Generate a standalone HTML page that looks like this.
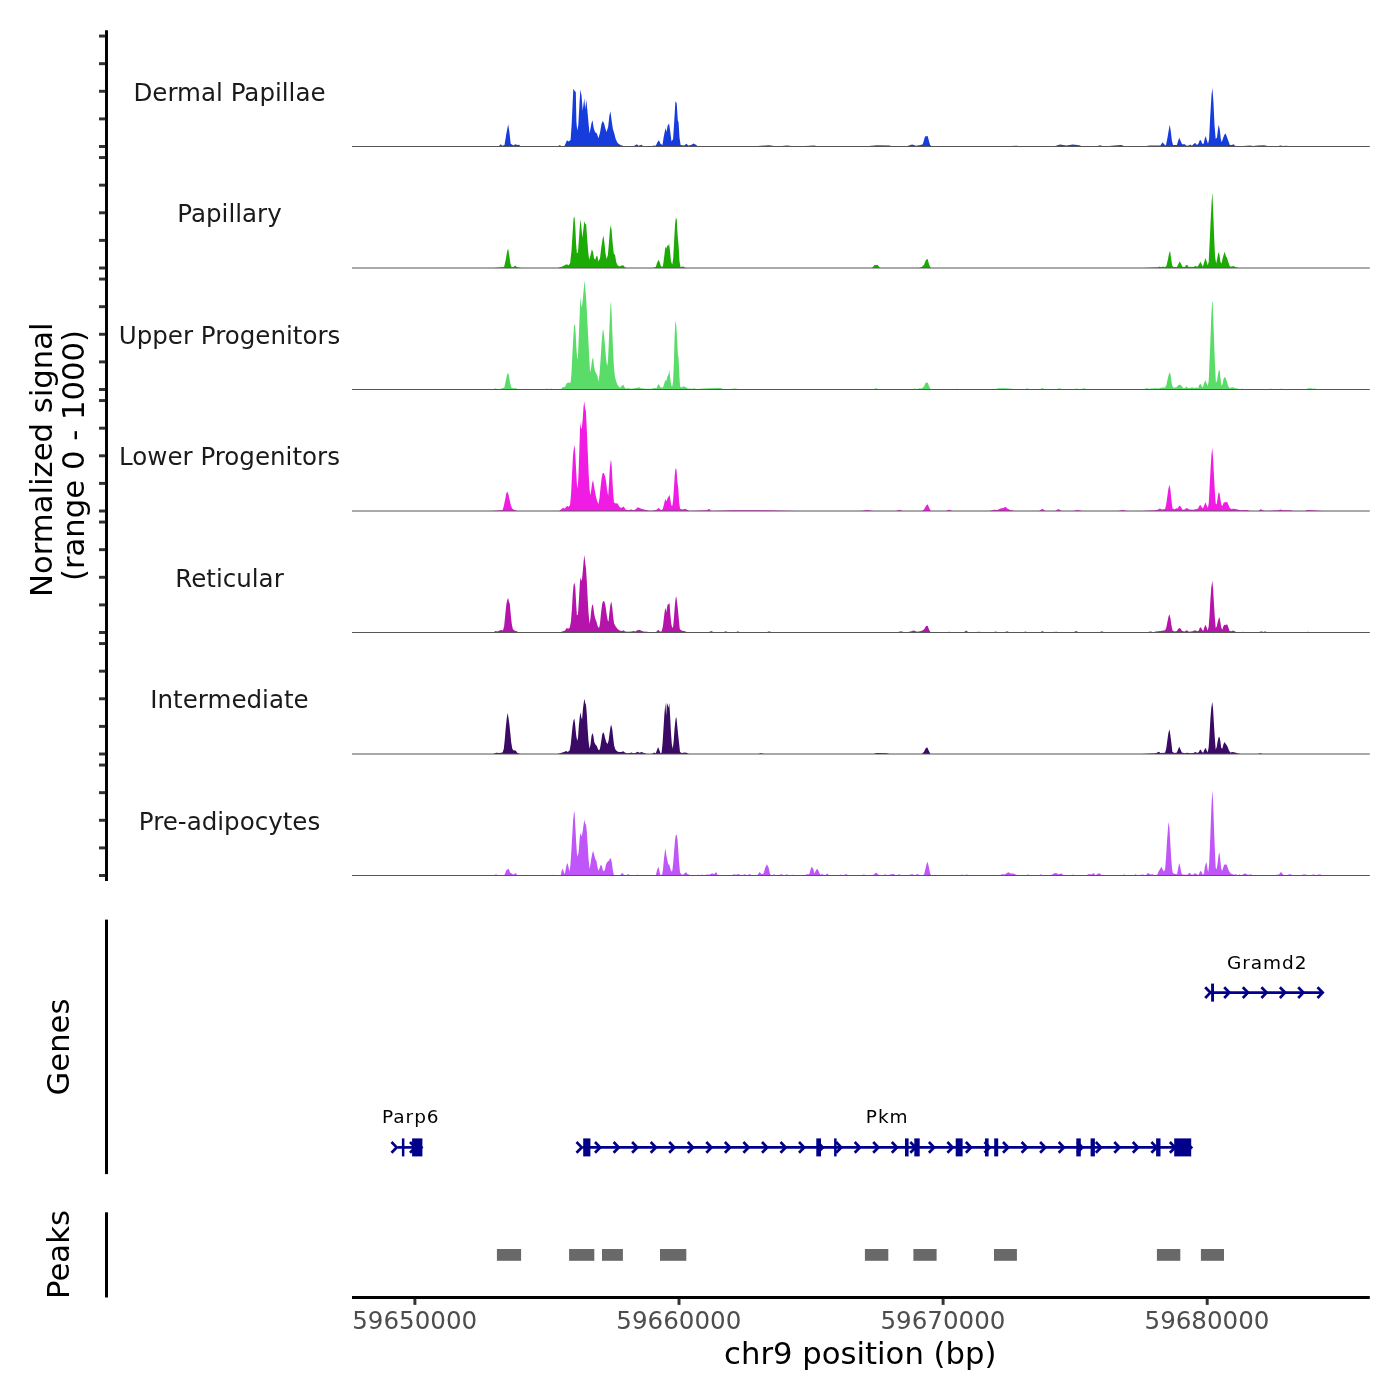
<!DOCTYPE html>
<html lang="en"><head><meta charset="utf-8"><title>Coverage plot</title>
<style>html,body{margin:0;padding:0;background:#fff}svg{display:block}text{font-family:'DejaVu Sans','Liberation Sans',sans-serif}</style>
</head><body>
<svg width="1400" height="1400" viewBox="0 0 1400 1400">
<rect width="1400" height="1400" fill="#fff"/>
<g id="coverage">
<path d="M352,146.5L498.6,146.5L500.7,144.14L502.3,145.71L504.5,145.09L506.5,132.83L508.2,124.19L509.5,132.83L510.7,143.83L513.6,145.4L515.1,144.14L517.5,145.09L519.1,144.77L520.6,146.5L557.6,146.5L559.9,145.09L561.5,146.5L564.6,145.71L567,140.21L568.6,141.47L570.6,139.9L571.7,123.4L573.3,88.83L574.9,91.19L575.8,91.97L576.4,121.83L577.2,130.47L578.3,124.97L579.6,101.4L580.4,89.61L581.6,95.9L582.7,110.83L584.3,98.26L585.2,109.26L586.3,99.83L587.4,110.83L588.7,124.97L589.6,133.61L591.4,123.4L592.5,120.26L593.7,128.11L595,132.04L596.9,133.61L598.4,138.33L600,132.83L601.6,123.4L602.8,121.04L604.1,123.4L605.5,128.9L606.6,132.04L608.2,126.54L609.4,115.54L610.4,111.14L611.6,120.26L612.9,128.9L614.1,132.83L615.7,139.11L617.6,143.04L620.4,145.09L623.6,146.03L633.8,146.03L636.9,144.14L638.5,145.71L641.6,144.77L643.2,146.5L651.9,146.03L654.2,145.4L655.8,145.71L657.4,142.26L658.9,140.21L660.5,143.83L662.5,145.09L663.6,137.54L665.5,128.11L666.5,132.04L667.6,125.76L669.1,123.4L670.4,132.83L671.5,141.47L673.1,139.11L674.2,121.83L675.4,101.4L676.7,102.97L677.8,120.26L678.6,122.61L679.5,137.54L680.6,145.09L684.1,145.4L686.4,143.83L688.3,145.4L691.1,145.09L693.5,143.51L695.9,144.77L697.4,146.03L751.4,146.5L769.1,145.21L777.1,146.5L786.8,145.54L796.4,146.5L814.1,145.54L818.9,146.5L863.9,146.5L876.8,145.21L889.6,145.54L892.9,146.5L905.7,146.5L912.1,144.57L916,145.86L920.5,144.89L922.8,144.25L925,136.54L927.6,135.89L930.1,144.89L932.1,146.5L998.9,146.5L1016.6,145.86L1021.4,146.5L1053.6,146.5L1060,144.57L1066.4,145.54L1072.9,144.57L1079.3,145.21L1082.5,146.5L1095.4,146.5L1100.2,145.21L1103.4,146.5L1114.6,145.54L1121.1,144.89L1125.9,146.5L1143.1,146.5L1149.4,145.4L1160.4,145.4L1162.5,142.26L1164.4,144.61L1165.9,145.4L1167.5,137.54L1168.8,129.69L1169.7,124.66L1170.8,131.26L1171.9,140.69L1173,145.09L1176.9,145.09L1178.2,140.69L1179.3,137.86L1180.5,140.69L1182.1,144.14L1184.8,144.14L1186.4,145.71L1188.7,145.4L1190.3,144.61L1191.9,145.87L1194.2,143.51L1195.3,143.04L1196.9,145.09L1198.5,143.51L1199.7,140.37L1201,140.37L1202.2,143.83L1203.6,143.83L1204.7,139.11L1205.7,135.97L1206.8,139.9L1208,143.83L1209.1,139.11L1210.2,117.11L1211.5,95.11L1212.4,88.04L1213.4,101.4L1214.5,124.97L1215.7,139.11L1217,137.54L1217.9,129.69L1218.7,124.66L1219.8,129.69L1220.8,139.11L1221.7,142.26L1223.3,137.54L1224.5,134.4L1225.6,133.61L1226.9,136.76L1228.3,140.69L1229.9,145.09L1231.9,145.09L1233.5,144.14L1235.1,145.71L1236.6,146.5L1246.9,145.71L1250,145.4L1253.1,146.03L1257.9,145.4L1264.1,145.24L1267.3,146.03L1278.3,146.03L1280.6,145.4L1283,146.03L1286.9,145.71L1289.3,146.5L1369.8,146.5 Z" fill="#163CDC"/>
<line x1="352" y1="146.5" x2="1369.8" y2="146.5" stroke="#555" stroke-width="1.07"/>
<path d="M352,268L493.1,268L504.1,267.06L505.7,259.83L507.3,250.4L508.1,248.51L509.2,255.11L510.4,263.76L511.7,267.37L513.6,267.06L515.1,265.49L516.7,267.06L521.4,268L557.6,268L562.3,266.43L564.6,265.33L566.7,264.23L568.6,265.33L570.1,262.97L571.4,251.97L572.7,231.54L573.6,218.19L574.5,216.61L575.3,226.83L576.1,244.11L576.9,253.54L578,251.97L578.9,239.4L579.9,225.26L580.5,218.97L581.5,228.4L582.4,237.83L583.3,229.97L584.3,221.33L585.2,223.69L586.2,224.47L587.1,237.83L588.2,251.97L589.2,259.83L590.6,255.11L591.8,249.61L593.1,251.97L594,258.26L595.3,259.83L596.2,256.37L597.5,256.37L598.4,261.4L600,258.26L601.3,247.26L602.5,239.4L603.5,235.47L604.4,242.54L605.5,253.54L606.6,259.04L607.9,255.11L609,242.54L609.9,229.97L610.7,225.26L611.6,229.97L612.6,242.54L613.8,253.54L615.1,255.11L616.2,262.19L617.6,265.33L619.6,266.43L622,265.33L623.6,265.49L624.8,267.37L626.7,268L652.6,268L655.8,267.06L657,262.97L658.6,259.83L659.7,262.19L661,266.43L662.9,266.43L664,258.26L665.4,246.47L666.3,248.83L667.3,244.9L668.2,246.47L669.1,243.33L670.1,251.97L671,261.4L672.3,264.54L673.2,258.26L674.2,239.4L675.1,223.69L675.9,217.4L676.8,219.76L677.6,234.69L678.6,245.69L679.5,261.4L680.5,266.9L683.3,266.43L685.6,268L872,268L874.5,265.11L877.8,265.11L880,268L918.6,268L921.8,267.04L924,264.79L926,259.64L927.6,259L929.2,264.79L930.8,268L1143.1,268L1158.1,267.37L1159.6,266.43L1161.2,267.37L1162.8,266.43L1164.8,267.37L1166.4,266.11L1167.7,260.46L1168.9,254.17L1170,250.71L1171,257.31L1172.1,265.17L1173.3,267.06L1176.9,267.06L1178.2,264.39L1179.6,261.4L1180.9,263.6L1182.4,266.74L1184.8,267.06L1186,265.17L1187.1,264.86L1188.4,266.74L1193.4,267.06L1195.3,266.11L1197.4,266.74L1198.9,264.39L1200.5,261.71L1201.8,264.39L1202.9,266.74L1204,262.81L1205.4,258.1L1206.5,261.24L1207.6,265.17L1208.7,262.03L1209.6,243.17L1210.7,219.6L1211.7,200.74L1212.4,192.57L1213.2,211.74L1214.2,238.46L1215.1,257.31L1216.2,263.6L1217.3,258.1L1218.3,252.29L1219.4,254.17L1220.5,262.03L1221.6,263.6L1222.7,258.1L1223.8,254.17L1224.7,251.81L1225.8,255.74L1227.1,258.1L1228.3,262.03L1229.9,266.43L1231.9,266.43L1233.5,265.96L1235.9,267.21L1239,268L1369.8,268 Z" fill="#1CAB05"/>
<line x1="352" y1="268" x2="1369.8" y2="268" stroke="#555" stroke-width="1.07"/>
<path d="M352,389.5L493.1,389.5L495.5,388.24L497.9,389.5L502.6,388.24L504.5,387.3L505.7,381.01L507,374.73L507.9,372.84L508.9,375.51L510,382.59L511.2,387.61L513.6,388.56L515.1,387.93L519.1,389.5L545,389.5L546.9,388.56L548.9,389.5L551.3,388.56L552.9,389.5L560.7,389.5L562.6,387.3L565.1,386.67L566.7,383.37L568.6,382.59L570.5,382.9L571.4,374.73L572.3,355.87L573.3,337.01L574.1,325.23L574.9,324.44L575.6,332.3L576.4,348.01L577.2,359.8L578,355.87L578.9,333.87L579.9,308.73L580.5,296.16L581.3,307.16L582.1,305.59L583,297.73L583.8,288.3L584.6,280.13L585.4,289.87L586.2,299.3L586.8,310.3L587.6,326.01L588.5,343.3L589.3,359.01L590.1,372.37L591,368.44L592.1,359.8L593.1,357.44L593.9,365.3L595,371.27L596.2,373.16L597.5,376.3L598.4,381.8L599.5,374.73L600.6,359.01L601.7,341.73L602.7,330.73L603.3,329.16L604.2,337.01L605.2,348.01L606.1,359.01L607.1,366.09L607.9,362.16L608.8,343.3L609.7,321.3L610.5,304.8L611,301.19L611.6,313.44L612.4,333.87L613.2,352.73L614,368.44L614.9,376.3L616,381.01L617.6,384.94L619.2,387.3L620.7,387.61L622,385.41L623.3,384.79L624.4,386.99L625.5,388.56L628.3,388.24L631.4,388.87L636.1,387.93L639,387.3L640.9,388.24L645.6,388.87L651.9,388.87L654.2,387.93L656.6,388.24L657.8,385.1L658.9,384.16L660,386.67L661.3,387.61L662.9,387.61L664.1,384.16L665.2,380.23L666.3,381.01L667.3,377.09L668.4,374.73L669.3,370.01L670.2,377.87L671.2,385.73L672.3,386.51L673.1,381.01L673.9,362.16L674.6,337.01L675.4,320.51L676.2,324.44L677,337.01L677.8,352.73L678.6,359.01L679.4,376.3L680.1,386.51L681.7,387.61L683.6,386.36L685.6,387.3L688,388.56L692.7,388.87L694.3,388.24L697.4,389.5L700,388.86L709.6,388.21L720.9,387.89L724.1,389.5L735.4,388.54L740.2,389.5L873.6,389.5L876.1,387.89L878.7,389.5L912.1,389.5L914.7,388.54L917.3,389.5L919.2,388.21L921.8,388.54L924,386.61L925.6,382.75L927.6,382.43L929.2,386.61L930.8,389.5L953.9,389.5L957.1,388.86L960.4,389.5L992.5,389.5L998.9,388.21L1005.4,388.21L1011.8,388.86L1016.6,389.5L1024.6,389.5L1027.2,388.21L1029.8,389.5L1039.1,389.5L1042.3,387.89L1045.5,389.5L1055.2,389.5L1059.4,388.21L1063.2,389.5L1072.9,389.5L1076.7,388.54L1079.3,389.5L1084.1,388.21L1087.3,389.5L1140.4,389.5L1143.1,389.5L1146.3,388.24L1149.4,388.87L1155.7,388.24L1158.9,388.56L1162,387.61L1165.1,387.61L1166.4,384.94L1167.7,378.66L1168.9,373.94L1169.9,372.37L1170.8,376.3L1171.9,384.16L1173,387.61L1175.4,387.61L1176.9,386.99L1178.5,385.1L1180.1,384.63L1181.6,386.04L1183.2,388.24L1185.1,387.93L1186.4,386.36L1187.6,387.93L1190.3,387.93L1191.9,387.3L1194.2,387.93L1196.6,387.61L1198.1,388.24L1199.2,385.1L1200.5,383.84L1201.6,386.04L1202.9,387.61L1204,383.37L1205.4,380.23L1206.6,383.37L1207.7,386.04L1208.7,381.01L1209.5,362.16L1210.4,340.16L1211.3,316.59L1212.1,301.66L1212.6,301.66L1213.4,321.3L1214.2,344.87L1215,365.3L1215.9,382.59L1217,381.01L1217.9,374.73L1218.9,369.7L1219.7,370.8L1220.5,377.87L1221.4,385.73L1222.5,384.16L1223.4,379.44L1224.5,377.09L1225.6,377.87L1226.7,381.01L1228,385.73L1229.6,388.24L1231.1,387.61L1233,387.3L1235.1,388.24L1237.4,388.56L1240.6,389.5L1242.1,388.56L1244.5,389.5L1268.9,389.5L1270.7,388.56L1272.8,389.5L1279.1,389.5L1281,388.4L1283,389.5L1305,389.5L1307.4,388.56L1310.5,388.24L1312.9,388.87L1315.2,388.4L1317.6,389.5L1369.8,389.5 Z" fill="#5ADC68"/>
<line x1="352" y1="389.5" x2="1369.8" y2="389.5" stroke="#555" stroke-width="1.07"/>
<path d="M352,511L491.6,511L502.6,510.06L503.8,505.97L505.1,499.69L506.3,493.4L507.3,491.51L508.4,494.19L509.6,499.69L510.9,505.19L512.3,508.8L514.4,510.06L517.5,511L559.1,511L561.5,509.11L563.1,507.86L564.6,508.8L566.2,506.76L567.3,505.97L568.9,506.76L570.1,504.4L571.1,493.4L572,474.54L573,455.69L573.8,448.61L574.5,445L575.3,454.11L576.1,469.83L576.9,483.97L577.7,488.69L578.5,474.54L579.3,450.97L580,428.97L580.5,421.9L581.1,428.97L581.9,427.4L582.7,419.54L583.5,406.97L584.3,401.16L585.1,408.54L585.9,410.9L586.5,422.69L587.1,436.83L587.9,455.69L588.7,474.54L589.5,488.69L590.3,495.29L591.2,490.26L592.1,483.19L593.1,480.04L593.9,485.54L594.8,490.26L595.9,496.54L597.2,501.26L598.4,504.09L599.5,498.11L600.6,487.11L601.7,477.69L602.8,472.66L603.9,473.29L605,476.11L606.1,481.61L607.1,490.26L608.2,495.76L609,483.97L609.7,469.83L610.5,461.97L611,459.61L611.6,465.11L612.4,479.26L613.2,493.4L614,502.51L615.7,503.46L617.3,503.14L618.5,505.19L620.1,507.54L621.7,507.86L623.3,506.6L624.5,507.86L625.8,509.74L628.3,510.06L631.4,509.43L633.8,510.37L636.1,509.11L637.7,507.23L639.3,507.86L641.2,508.8L644,509.43L647.1,510.37L650.3,511L655,510.37L656.9,509.43L658.5,507.86L659.7,509.11L661,510.06L662.5,509.43L663.6,505.97L664.7,501.26L665.7,498.9L666.6,501.57L667.6,498.11L668.7,496.54L669.5,494.66L670.4,499.69L671.3,505.19L672.3,505.66L673.2,499.69L674,487.11L674.8,474.54L675.6,467.94L676.5,469.83L677.3,480.83L678.3,488.69L679.2,502.83L680.1,508.8L682.5,509.43L684.9,508.8L687.2,509.74L689.6,511L706.9,510.37L708.7,509.11L710,509.43L711.2,511L732.1,510.36L764.3,510.36L796.4,511L860.7,511L867.1,510.04L873.6,511L896.1,511L899.3,509.71L902.5,511L921.8,511L924,509.39L926,505.86L927.6,504.25L929.2,507.79L930.8,511L945.9,511L949.1,509.71L952.3,511L989.3,511L994.1,509.71L997.3,510.04L1000.5,508.43L1003.8,507.79L1005.4,506.82L1007.6,508.75L1010.2,510.04L1015,511L1039.1,511L1042.3,508.75L1045.5,511L1055.2,511L1058.4,509.07L1061.6,511L1072.9,511L1077.7,510.04L1082.5,511L1117.9,511L1122.7,510.04L1127.5,511L1141.6,511L1155.7,510.37L1158.1,509.43L1159.6,508.49L1162,509.43L1165.1,509.11L1166.2,504.4L1167.3,496.54L1168.4,488.69L1169.5,484.76L1170.5,490.26L1171.4,499.69L1172.4,508.33L1174.6,509.43L1176.1,508.17L1177.7,508.49L1179,506.29L1180.1,505.66L1181.3,507.86L1182.7,509.74L1184.8,509.43L1186,508.17L1187.5,508.17L1189,509.43L1193.4,509.74L1196.6,509.11L1198.1,508.49L1199.2,505.97L1200.5,505.03L1201.6,506.91L1202.9,508.49L1204,505.97L1205.4,502.2L1206.6,505.19L1207.9,507.86L1208.8,502.83L1209.6,487.11L1210.6,468.26L1211.5,454.11L1212.3,447.83L1213.1,458.83L1213.9,474.54L1214.8,490.26L1215.7,503.61L1216.7,504.4L1217.6,498.11L1218.6,492.46L1219.5,493.09L1220.5,499.69L1221.4,504.71L1222.5,505.97L1223.6,502.83L1224.9,502.2L1227.2,501.89L1228.3,504.4L1229.6,507.86L1231.1,509.11L1234.3,508.8L1237.4,509.43L1240.6,510.37L1246.9,510.06L1250,511L1258.6,511L1260.7,509.11L1262.6,510.37L1265.7,511L1278.3,510.37L1280.6,509.43L1283,510.37L1290.9,510.37L1293.2,511L1305,511L1307.4,510.06L1312.9,510.37L1322.3,511L1369.8,511 Z" fill="#F01CE4"/>
<line x1="352" y1="511" x2="1369.8" y2="511" stroke="#555" stroke-width="1.07"/>
<path d="M352,632.5L493.1,632.5L495.5,630.93L497.5,631.56L499.4,630.61L501.3,629.99L502.9,630.61L504.1,626.53L505.2,615.53L506.3,604.53L507.3,599.81L508.1,597.93L508.9,601.39L509.8,603.74L510.7,613.96L511.7,623.39L512.8,628.89L514.4,630.61L516.7,631.24L519.1,632.5L559.1,632.5L562.3,631.56L565.1,630.61L566.7,628.1L568.3,628.73L569.8,627.47L570.9,621.81L571.9,609.24L572.8,593.53L573.6,584.89L574.5,582.84L575.3,587.24L576.1,602.96L576.9,615.53L578,613.96L578.9,599.81L579.9,582.53L580.5,577.5L581.3,580.96L582.1,578.6L582.9,569.96L583.7,560.53L584.4,555.03L585.2,562.89L586,568.39L586.8,580.96L587.6,596.67L588.5,612.39L589.5,623.7L590.4,618.67L591.4,609.24L592.3,604.21L593.2,606.1L594.2,613.96L595.3,618.67L596.5,621.81L597.8,626.53L599.1,628.1L600,623.39L601.1,612.39L602.2,603.74L603.1,601.07L604.4,601.39L605.5,606.1L606.6,613.96L607.7,620.24L608.5,621.81L609.4,612.39L610.4,604.53L611.3,601.39L612.3,607.67L613.2,617.1L614.1,623.39L615.7,626.53L617.6,628.89L619.6,630.61L622,630.93L623.6,630.3L625.1,631.56L628.3,631.87L631.4,631.56L633.8,630.93L635.4,631.56L636.9,630.61L639,629.67L640.9,630.61L643.2,631.56L647.1,631.87L651.9,632.5L655.8,632.5L657.4,630.61L658.6,629.99L659.7,631.56L661.6,631.56L662.9,626.53L664,617.1L664.9,610.03L665.5,607.67L666.3,612.39L667.3,606.1L668,603.74L668.8,604.53L669.5,602.64L670.2,612.39L671.2,623.39L672.3,628.1L673.2,626.53L674,617.1L674.8,606.1L675.6,598.24L676.2,596.36L677,601.39L677.9,609.24L678.9,620.24L679.8,629.04L681.4,630.61L684.9,631.24L688,632.5L708,632.5L711.2,630.89L714.5,632.5L722.5,632.5L725.7,631.21L728.9,632.5L735.4,632.5L737.9,631.21L740.5,632.5L765.9,632.5L769.1,631.21L772.3,632.5L896.1,632.5L900.9,631.21L905.7,632.5L910.5,631.54L913.8,630.57L917,631.86L920.2,631.21L922.4,630.57L924.4,628.96L926,626.07L927.6,625.75L929.2,629.93L930.8,632.5L945.9,632.5L949.1,631.86L952.3,632.5L963.6,632.5L966.1,630.57L968.7,632.5L979.6,631.86L982.9,632.5L992.5,632.5L995.7,631.54L998.9,632.5L1003.8,632.5L1007,631.21L1010.2,632.5L1023,632.5L1025.3,631.54L1027.9,632.5L1040.1,632.5L1042.3,630.89L1044.9,632.5L1056.8,631.86L1060,632.5L1072.9,632.5L1076.1,630.89L1079.3,632.5L1098.6,632.5L1101.8,631.21L1105,632.5L1143.1,632.5L1149.4,631.87L1151,631.24L1152.6,632.5L1155.7,631.56L1160.4,630.93L1165.1,630.3L1166.2,628.1L1167.3,622.6L1168.4,617.1L1169.5,614.27L1170.5,618.67L1171.4,624.96L1172.5,630.46L1174.6,631.56L1176.9,630.93L1178.3,628.73L1179.6,628.1L1180.9,629.04L1182.1,630.93L1184.8,631.56L1186,630.61L1187.5,630.61L1188.7,631.87L1192.6,631.24L1195,630.3L1197.4,631.24L1198.9,630.61L1199.7,627.79L1201,627.16L1202.1,629.67L1203.2,630.93L1204.1,628.1L1205.4,624.64L1206.6,627.31L1207.7,630.46L1208.7,626.53L1209.5,615.53L1210.4,599.81L1211.3,587.24L1212.3,580.64L1213.1,588.81L1213.9,602.96L1214.8,617.1L1215.7,628.1L1216.7,626.53L1217.6,622.6L1218.6,618.67L1219.4,617.1L1220.3,621.81L1221.2,627.31L1222.3,629.67L1223.3,626.53L1224.4,624.64L1225.6,624.96L1227.2,624.33L1228.3,627.31L1229.6,630.93L1231.5,631.24L1233,630.61L1235.1,631.56L1237.4,632.5L1240.6,632.5L1242.9,631.87L1245.3,632.5L1258.6,632.5L1261,631.24L1263.4,632.03L1265.2,631.24L1267.3,632.5L1305,632.5L1308.1,631.87L1311.3,632.5L1314.4,632.03L1317.6,632.5L1369.8,632.5 Z" fill="#B414AA"/>
<line x1="352" y1="632.5" x2="1369.8" y2="632.5" stroke="#555" stroke-width="1.07"/>
<path d="M352,754L493.1,754L496.3,752.74L499.4,753.06L502.6,752.43L503.8,748.66L504.8,739.23L505.7,728.23L506.7,718.8L507.6,712.83L508.4,717.23L509.3,723.51L510.3,732.94L511.2,742.37L512.3,748.66L513.6,750.54L515.1,750.23L516.4,751.49L517.5,753.06L520.6,754L557.6,754L560.7,753.06L563.9,752.11L566.2,751.01L567.8,752.11L569.7,750.23L570.8,743.94L571.7,734.51L572.7,725.09L573.6,720.06L574.4,718.8L575.2,725.09L576.1,734.51L577.1,740.8L578,737.66L578.9,725.09L579.9,715.66L580.5,712.2L581.3,717.23L582.1,719.59L582.9,709.37L583.7,703.09L584.4,698.69L585.2,703.09L586,704.66L586.8,714.09L587.6,728.23L588.5,740.8L589.5,748.66L590.6,743.94L591.5,736.09L592.5,732.94L593.4,736.09L594.3,742.37L595.6,744.73L596.9,746.3L598.1,749.44L599.4,750.23L600.3,747.09L601.3,740.8L602.2,734.51L603.1,732.16L604.1,733.73L605.2,738.44L606.3,742.37L607.5,743.94L608.6,740.8L609.6,732.94L610.5,726.66L611.3,724.77L612.3,729.8L613.2,737.66L614.1,745.51L615.4,749.44L617,751.17L618.9,752.11L621.2,752.11L623.3,751.17L624.8,752.43L626.7,753.37L629.9,753.06L631.4,752.43L633.3,753.37L635.4,753.06L637.4,751.8L639.3,752.74L641.6,752.11L644,753.06L647.1,754L651.9,754L654.2,752.43L655.8,753.37L656.9,750.23L658.1,747.09L659.4,750.23L660.5,753.37L661.6,752.74L662.5,743.94L663.5,728.23L664.4,714.09L665.4,702.77L666.2,715.66L666.9,703.09L667.7,704.66L668.5,707.8L669.3,703.09L670.1,715.66L670.9,731.37L671.8,743.94L672.8,748.66L673.7,740.8L674.6,728.23L675.6,718.8L676.4,717.23L677.2,725.09L678.1,734.51L679,742.37L680,752.11L681.7,753.06L684.9,752.43L687.2,753.06L688.8,754L757.9,754L761.1,753.36L764.3,754L873.6,754L876.8,753.04L886.4,753.36L889.6,754L921.8,754L924,751.75L925.6,748.54L927.2,747.25L928.9,751.11L930.5,754L1141.6,754L1155.7,753.37L1157.3,752.43L1158.9,751.8L1160.4,753.06L1165.1,752.74L1166.2,748.66L1167.3,740.8L1168.4,732.94L1169.4,729.17L1170.3,734.51L1171.3,742.37L1172.4,752.11L1174.6,753.06L1176.9,752.43L1178,749.44L1179.3,746.77L1180.5,749.44L1181.8,752.43L1184.8,753.37L1187.1,752.74L1190.3,753.37L1193.4,753.06L1195.3,752.11L1197.4,753.06L1198.9,752.11L1199.7,750.23L1200.8,749.6L1201.9,752.11L1203.2,752.74L1204.1,750.54L1205.4,747.87L1206.6,750.23L1207.7,752.43L1208.7,747.09L1209.5,734.51L1210.4,718.8L1211.3,707.8L1212.3,701.83L1213.1,709.37L1213.9,723.51L1214.8,737.66L1215.7,749.44L1216.7,747.09L1217.6,741.59L1218.6,737.34L1219.4,736.87L1220.3,740.8L1221.2,747.87L1222.3,748.66L1223.3,744.73L1224.4,742.06L1225.3,743.16L1226.4,744.73L1227.7,747.09L1228.9,750.23L1230.2,752.43L1232.7,752.11L1235.1,752.43L1237.4,753.37L1240.6,754L1257.9,754L1260.2,753.21L1262.6,754L1369.8,754 Z" fill="#3A0A64"/>
<line x1="352" y1="754" x2="1369.8" y2="754" stroke="#555" stroke-width="1.07"/>
<path d="M352,875.5L493.1,875.5L495,874.87L496.3,874.24L497.5,875.5L504.1,875.5L505.2,873.3L506.3,870.16L507.6,869.53L508.5,868.59L509.5,871.1L510.4,872.99L512,873.61L513.3,874.87L514.8,873.61L516.1,873.3L517.2,875.5L523.8,875.5L525.8,874.87L527.4,875.5L547.4,875.5L548.9,874.87L550.5,875.5L552.9,874.87L554.4,875.5L560.7,875.5L561.7,870.79L562.8,868.59L563.9,872.36L564.8,874.24L565.7,869.21L566.7,864.5L567.5,862.93L568.3,866.07L569.4,871.57L570.3,866.07L571.2,853.5L572.2,836.21L573.1,820.5L573.9,812.64L574.5,811.39L575.3,825.21L576.1,840.93L576.9,853.5L577.8,856.64L578.8,850.36L579.7,837.79L580.5,832.76L581.3,836.21L582.1,834.64L582.9,829.93L583.7,823.64L584.4,819.71L585.2,823.64L586,824.43L586.8,831.5L587.6,844.07L588.5,858.21L589.5,868.9L590.4,864.5L591.4,858.21L592.3,853.5L593.2,850.67L594.2,855.07L595.3,859L596.5,861.36L597.6,867.64L598.7,870.79L599.7,867.64L600.8,864.81L601.9,866.07L602.8,870L603.9,871.57L605,869.21L606,864.5L607.1,862.14L608.2,861.36L609.1,860.57L610.1,857.9L611,859L611.9,862.93L612.7,869.21L613.7,874.56L615.7,875.5L620.1,875.5L621.4,873.61L622.8,873.3L623.9,874.87L626.4,875.5L627.7,874.24L628.9,874.24L629.9,875.5L636.1,875.5L637.4,874.4L638.7,875.5L644,875.5L645.6,874.71L647.1,875.5L651.1,875.5L652.2,874.71L653.4,875.5L655.8,875.5L656.9,870.79L657.8,867.96L658.5,866.7L659.2,870L660.2,874.87L662.1,874.87L663,869.21L664,858.21L664.9,851.14L665.5,848.47L666.3,855.07L667.3,859.79L668.2,864.5L669.1,864.19L670.1,867.64L671.2,871.57L672.3,870.79L673.2,862.93L674.2,850.36L675.1,839.36L675.9,834.96L676.7,834.64L677.5,839.36L678.3,850.36L679,861.36L680,872.36L681.4,874.56L683.3,874.87L684.5,873.3L686.1,872.36L687.4,873.93L689.3,874.87L692.7,875.5L697.4,875.5L698.7,874.4L699.9,875.5L702.1,874.56L703.7,875.5L706.9,874.56L709.2,874.87L712.2,873.25L714.1,874.21L716.1,871.96L718,875.5L731.5,875.5L733.8,874.21L736,874.86L738.6,873.89L741.1,875.5L745,874.21L747.2,875.5L749.8,873.89L752.1,875.5L757.2,875.5L759.5,871.96L761.7,874.21L763.6,873.57L765.2,867.79L766.9,864.25L768.5,867.14L770.1,874.21L772.3,875.5L773.9,874.21L776.2,875.5L782,874.21L784.2,875.5L786.8,874.21L789,875.5L793.2,874.86L796.4,875.5L804.5,875.5L806.7,874.21L809.3,874.21L810.6,869.39L811.5,866.82L813.1,868.43L814.4,873.57L816,870.36L817.3,868.75L818.9,871.64L820.2,874.86L822.1,873.89L824.7,875.5L827.3,873.57L829.2,875.5L838.2,875.5L840.5,874.54L843,875.5L846.2,873.89L848.5,875.5L860.7,875.5L863.9,874.54L867.1,875.5L873.6,874.86L876.1,872.61L878.4,874.86L883.2,875.5L885.1,874.21L887.4,875.5L891.2,874.21L893.8,873.89L896.1,875.5L899.3,874.21L901.9,875.5L910.5,874.86L912.1,873.89L914.4,875.5L917.6,873.89L919.9,875.5L924,874.86L925.3,869.39L926.6,863.93L927.6,861.68L928.9,867.14L930.1,873.57L931.4,875.5L960.4,875.5L962,874.54L964.2,875.5L966.8,874.54L969.4,875.5L998.9,875.5L1002.1,874.21L1004.7,874.54L1007,872.93L1008.6,872.29L1010.8,873.57L1013.4,873.57L1015.6,874.54L1018.2,875.5L1025.3,875.5L1027.9,874.54L1031.1,875.5L1039.1,875.5L1040.7,874.21L1043,875.5L1052,874.86L1054.2,873.25L1056.1,872.93L1058.4,874.21L1061.6,873.57L1063.9,875.5L1071.2,875.5L1072.9,874.54L1075.1,875.5L1085.7,875.5L1088.9,873.89L1091.5,874.54L1093.8,872.93L1095.4,875.5L1097.9,873.57L1100.2,873.57L1101.8,875.5L1121.7,875.5L1124.3,874.54L1126.9,875.5L1133.9,875.5L1135.5,874.21L1137.8,875.5L1140.8,874.87L1143.1,874.56L1145.5,875.5L1147.5,873.61L1148.6,872.99L1150.2,874.56L1152.6,874.24L1154.9,875.5L1157.3,874.56L1158.5,871.57L1160.1,868.9L1161.4,866.7L1162.6,869.21L1163.9,871.57L1165.1,869.21L1166.1,856.64L1167,840.93L1168,828.36L1168.6,822.07L1169.4,826.79L1170.2,840.93L1171.1,856.64L1172.1,869.21L1173,873.14L1175.4,873.93L1177.1,874.24L1178,869.21L1179.1,862.93L1180.1,866.07L1181.2,872.36L1182.1,874.56L1185.6,874.87L1187.9,874.56L1189,872.99L1190,872.67L1190.9,874.56L1193.1,874.87L1194.2,873.61L1195.8,873.61L1197.4,874.87L1198.9,874.56L1199.9,871.73L1201,870.79L1201.9,872.99L1202.9,874.87L1204,873.61L1204.7,867.64L1205.7,863.71L1206.5,862.3L1207.3,867.64L1208.2,872.36L1209.1,864.5L1209.9,847.21L1210.7,825.21L1211.5,804.79L1212.3,790.33L1213.1,801.64L1213.9,825.21L1214.8,848.79L1215.7,867.64L1216.7,869.21L1217.6,862.93L1218.6,855.07L1219.4,852.24L1220.1,858.21L1221.1,867.64L1222,871.1L1223,868.43L1223.9,865.29L1224.9,864.19L1225.8,864.81L1226.7,864.5L1227.7,867.64L1228.9,870.79L1230.4,873.14L1231.9,873.93L1234,874.87L1236.2,874.24L1237.7,875.5L1239.3,874.24L1240.9,875.5L1242.9,874.56L1245,873.3L1246.9,874.56L1249.2,874.87L1250.8,874.24L1253.1,875.5L1255.5,875.5L1273.6,875.5L1276.7,874.87L1279.1,874.56L1280.2,872.67L1281.1,872.04L1282.2,873.61L1283.3,874.87L1286.1,875.5L1288.5,874.56L1290.9,874.24L1292.4,875.5L1300.3,875.5L1303.4,874.56L1305.8,874.4L1307.4,875.5L1310.5,875.5L1312.1,874.87L1314.4,874.56L1316,875.5L1318.4,874.56L1320.7,874.4L1322.3,875.5L1324.6,875.5L1369.8,875.5 Z" fill="#C056F8"/>
<line x1="352" y1="875.5" x2="1369.8" y2="875.5" stroke="#555" stroke-width="1.07"/>
</g>
<g id="yaxis">
<line x1="106.5" y1="30.3" x2="106.5" y2="881" stroke="#000" stroke-width="2.96"/>
<line x1="99" y1="146.5" x2="105.2" y2="146.5" stroke="#333" stroke-width="2.96"/>
<line x1="99" y1="118.89" x2="105.2" y2="118.89" stroke="#333" stroke-width="2.96"/>
<line x1="99" y1="91.28" x2="105.2" y2="91.28" stroke="#333" stroke-width="2.96"/>
<line x1="99" y1="63.67" x2="105.2" y2="63.67" stroke="#333" stroke-width="2.96"/>
<line x1="99" y1="36.06" x2="105.2" y2="36.06" stroke="#333" stroke-width="2.96"/>
<line x1="99" y1="268" x2="105.2" y2="268" stroke="#333" stroke-width="2.96"/>
<line x1="99" y1="240.39" x2="105.2" y2="240.39" stroke="#333" stroke-width="2.96"/>
<line x1="99" y1="212.78" x2="105.2" y2="212.78" stroke="#333" stroke-width="2.96"/>
<line x1="99" y1="185.17" x2="105.2" y2="185.17" stroke="#333" stroke-width="2.96"/>
<line x1="99" y1="157.56" x2="105.2" y2="157.56" stroke="#333" stroke-width="2.96"/>
<line x1="99" y1="389.5" x2="105.2" y2="389.5" stroke="#333" stroke-width="2.96"/>
<line x1="99" y1="361.89" x2="105.2" y2="361.89" stroke="#333" stroke-width="2.96"/>
<line x1="99" y1="334.28" x2="105.2" y2="334.28" stroke="#333" stroke-width="2.96"/>
<line x1="99" y1="306.67" x2="105.2" y2="306.67" stroke="#333" stroke-width="2.96"/>
<line x1="99" y1="279.06" x2="105.2" y2="279.06" stroke="#333" stroke-width="2.96"/>
<line x1="99" y1="511" x2="105.2" y2="511" stroke="#333" stroke-width="2.96"/>
<line x1="99" y1="483.39" x2="105.2" y2="483.39" stroke="#333" stroke-width="2.96"/>
<line x1="99" y1="455.78" x2="105.2" y2="455.78" stroke="#333" stroke-width="2.96"/>
<line x1="99" y1="428.17" x2="105.2" y2="428.17" stroke="#333" stroke-width="2.96"/>
<line x1="99" y1="400.56" x2="105.2" y2="400.56" stroke="#333" stroke-width="2.96"/>
<line x1="99" y1="632.5" x2="105.2" y2="632.5" stroke="#333" stroke-width="2.96"/>
<line x1="99" y1="604.89" x2="105.2" y2="604.89" stroke="#333" stroke-width="2.96"/>
<line x1="99" y1="577.28" x2="105.2" y2="577.28" stroke="#333" stroke-width="2.96"/>
<line x1="99" y1="549.67" x2="105.2" y2="549.67" stroke="#333" stroke-width="2.96"/>
<line x1="99" y1="522.06" x2="105.2" y2="522.06" stroke="#333" stroke-width="2.96"/>
<line x1="99" y1="754" x2="105.2" y2="754" stroke="#333" stroke-width="2.96"/>
<line x1="99" y1="726.39" x2="105.2" y2="726.39" stroke="#333" stroke-width="2.96"/>
<line x1="99" y1="698.78" x2="105.2" y2="698.78" stroke="#333" stroke-width="2.96"/>
<line x1="99" y1="671.17" x2="105.2" y2="671.17" stroke="#333" stroke-width="2.96"/>
<line x1="99" y1="643.56" x2="105.2" y2="643.56" stroke="#333" stroke-width="2.96"/>
<line x1="99" y1="875.5" x2="105.2" y2="875.5" stroke="#333" stroke-width="2.96"/>
<line x1="99" y1="847.89" x2="105.2" y2="847.89" stroke="#333" stroke-width="2.96"/>
<line x1="99" y1="820.28" x2="105.2" y2="820.28" stroke="#333" stroke-width="2.96"/>
<line x1="99" y1="792.67" x2="105.2" y2="792.67" stroke="#333" stroke-width="2.96"/>
<line x1="99" y1="765.06" x2="105.2" y2="765.06" stroke="#333" stroke-width="2.96"/>
</g>
<g id="strips" font-size="24.55" fill="#1a1a1a" text-anchor="middle">
<text x="229.5" y="100.7">Dermal Papillae</text>
<text x="229.5" y="222.2">Papillary</text>
<text x="229.5" y="343.6">Upper Progenitors</text>
<text x="229.5" y="465.1">Lower Progenitors</text>
<text x="229.5" y="586.6">Reticular</text>
<text x="229.5" y="708.1">Intermediate</text>
<text x="229.5" y="829.6">Pre-adipocytes</text>
</g>
<g id="ytitle" font-size="30.7" fill="#000" text-anchor="middle">
<text transform="translate(52.2,459.7) rotate(-90)">Normalized signal</text>
<text transform="translate(84.3,455.5) rotate(-90)">(range 0 - 1000)</text>
<text transform="translate(69.4,1047) rotate(-90)">Genes</text>
<text transform="translate(69.4,1254.5) rotate(-90)">Peaks</text>
</g>
<line x1="106.5" y1="919.6" x2="106.5" y2="1174.1" stroke="#000" stroke-width="2.96"/>
<line x1="106.5" y1="1212.3" x2="106.5" y2="1297.5" stroke="#000" stroke-width="2.96"/>
<g id="genes">
<line x1="1211" y1="992.6" x2="1322" y2="992.6" stroke="#00008B" stroke-width="2.7"/>
<path d="M1205.2,987.2 L1210.4,992.6 L1205.2,998" fill="none" stroke="#00008B" stroke-width="2.7" stroke-linecap="butt" stroke-linejoin="miter"/>
<path d="M1224.2,987.2 L1229.4,992.6 L1224.2,998" fill="none" stroke="#00008B" stroke-width="2.7" stroke-linecap="butt" stroke-linejoin="miter"/>
<path d="M1242.8,987.2 L1248,992.6 L1242.8,998" fill="none" stroke="#00008B" stroke-width="2.7" stroke-linecap="butt" stroke-linejoin="miter"/>
<path d="M1261.4,987.2 L1266.6,992.6 L1261.4,998" fill="none" stroke="#00008B" stroke-width="2.7" stroke-linecap="butt" stroke-linejoin="miter"/>
<path d="M1279.9,987.2 L1285.1,992.6 L1279.9,998" fill="none" stroke="#00008B" stroke-width="2.7" stroke-linecap="butt" stroke-linejoin="miter"/>
<path d="M1298.2,987.2 L1303.4,992.6 L1298.2,998" fill="none" stroke="#00008B" stroke-width="2.7" stroke-linecap="butt" stroke-linejoin="miter"/>
<path d="M1317.5,987.2 L1322.7,992.6 L1317.5,998" fill="none" stroke="#00008B" stroke-width="2.7" stroke-linecap="butt" stroke-linejoin="miter"/>
<rect x="1211.1" y="983.6" width="2.9" height="18" fill="#00008B"/>
<line x1="397.5" y1="1147.4" x2="422" y2="1147.4" stroke="#00008B" stroke-width="2.7"/>
<path d="M391.5,1142 L396.7,1147.4 L391.5,1152.8" fill="none" stroke="#00008B" stroke-width="2.7" stroke-linecap="butt" stroke-linejoin="miter"/>
<path d="M410,1142 L415.2,1147.4 L410,1152.8" fill="none" stroke="#00008B" stroke-width="2.7" stroke-linecap="butt" stroke-linejoin="miter"/>
<path d="M416.3,1142 L421.5,1147.4 L416.3,1152.8" fill="none" stroke="#00008B" stroke-width="2.7" stroke-linecap="butt" stroke-linejoin="miter"/>
<rect x="401.9" y="1138.4" width="2.5" height="18" fill="#00008B"/>
<rect x="412.1" y="1138.4" width="10.3" height="18" fill="#00008B"/>
<line x1="582.5" y1="1147.4" x2="1191" y2="1147.4" stroke="#00008B" stroke-width="2.7"/>
<path d="M576.5,1142 L581.7,1147.4 L576.5,1152.8" fill="none" stroke="#00008B" stroke-width="2.7" stroke-linecap="butt" stroke-linejoin="miter"/>
<path d="M595,1142 L600.2,1147.4 L595,1152.8" fill="none" stroke="#00008B" stroke-width="2.7" stroke-linecap="butt" stroke-linejoin="miter"/>
<path d="M613.6,1142 L618.8,1147.4 L613.6,1152.8" fill="none" stroke="#00008B" stroke-width="2.7" stroke-linecap="butt" stroke-linejoin="miter"/>
<path d="M632.1,1142 L637.3,1147.4 L632.1,1152.8" fill="none" stroke="#00008B" stroke-width="2.7" stroke-linecap="butt" stroke-linejoin="miter"/>
<path d="M650.7,1142 L655.9,1147.4 L650.7,1152.8" fill="none" stroke="#00008B" stroke-width="2.7" stroke-linecap="butt" stroke-linejoin="miter"/>
<path d="M669.2,1142 L674.4,1147.4 L669.2,1152.8" fill="none" stroke="#00008B" stroke-width="2.7" stroke-linecap="butt" stroke-linejoin="miter"/>
<path d="M687.8,1142 L693,1147.4 L687.8,1152.8" fill="none" stroke="#00008B" stroke-width="2.7" stroke-linecap="butt" stroke-linejoin="miter"/>
<path d="M706.3,1142 L711.5,1147.4 L706.3,1152.8" fill="none" stroke="#00008B" stroke-width="2.7" stroke-linecap="butt" stroke-linejoin="miter"/>
<path d="M724.9,1142 L730.1,1147.4 L724.9,1152.8" fill="none" stroke="#00008B" stroke-width="2.7" stroke-linecap="butt" stroke-linejoin="miter"/>
<path d="M743.4,1142 L748.6,1147.4 L743.4,1152.8" fill="none" stroke="#00008B" stroke-width="2.7" stroke-linecap="butt" stroke-linejoin="miter"/>
<path d="M762,1142 L767.2,1147.4 L762,1152.8" fill="none" stroke="#00008B" stroke-width="2.7" stroke-linecap="butt" stroke-linejoin="miter"/>
<path d="M780.5,1142 L785.7,1147.4 L780.5,1152.8" fill="none" stroke="#00008B" stroke-width="2.7" stroke-linecap="butt" stroke-linejoin="miter"/>
<path d="M799,1142 L804.2,1147.4 L799,1152.8" fill="none" stroke="#00008B" stroke-width="2.7" stroke-linecap="butt" stroke-linejoin="miter"/>
<path d="M817.6,1142 L822.8,1147.4 L817.6,1152.8" fill="none" stroke="#00008B" stroke-width="2.7" stroke-linecap="butt" stroke-linejoin="miter"/>
<path d="M836.1,1142 L841.3,1147.4 L836.1,1152.8" fill="none" stroke="#00008B" stroke-width="2.7" stroke-linecap="butt" stroke-linejoin="miter"/>
<path d="M854.7,1142 L859.9,1147.4 L854.7,1152.8" fill="none" stroke="#00008B" stroke-width="2.7" stroke-linecap="butt" stroke-linejoin="miter"/>
<path d="M873.2,1142 L878.4,1147.4 L873.2,1152.8" fill="none" stroke="#00008B" stroke-width="2.7" stroke-linecap="butt" stroke-linejoin="miter"/>
<path d="M891.8,1142 L897,1147.4 L891.8,1152.8" fill="none" stroke="#00008B" stroke-width="2.7" stroke-linecap="butt" stroke-linejoin="miter"/>
<path d="M910.3,1142 L915.5,1147.4 L910.3,1152.8" fill="none" stroke="#00008B" stroke-width="2.7" stroke-linecap="butt" stroke-linejoin="miter"/>
<path d="M928.9,1142 L934.1,1147.4 L928.9,1152.8" fill="none" stroke="#00008B" stroke-width="2.7" stroke-linecap="butt" stroke-linejoin="miter"/>
<path d="M947.4,1142 L952.6,1147.4 L947.4,1152.8" fill="none" stroke="#00008B" stroke-width="2.7" stroke-linecap="butt" stroke-linejoin="miter"/>
<path d="M965.9,1142 L971.1,1147.4 L965.9,1152.8" fill="none" stroke="#00008B" stroke-width="2.7" stroke-linecap="butt" stroke-linejoin="miter"/>
<path d="M984.5,1142 L989.7,1147.4 L984.5,1152.8" fill="none" stroke="#00008B" stroke-width="2.7" stroke-linecap="butt" stroke-linejoin="miter"/>
<path d="M1003,1142 L1008.2,1147.4 L1003,1152.8" fill="none" stroke="#00008B" stroke-width="2.7" stroke-linecap="butt" stroke-linejoin="miter"/>
<path d="M1021.6,1142 L1026.8,1147.4 L1021.6,1152.8" fill="none" stroke="#00008B" stroke-width="2.7" stroke-linecap="butt" stroke-linejoin="miter"/>
<path d="M1040.1,1142 L1045.3,1147.4 L1040.1,1152.8" fill="none" stroke="#00008B" stroke-width="2.7" stroke-linecap="butt" stroke-linejoin="miter"/>
<path d="M1058.7,1142 L1063.9,1147.4 L1058.7,1152.8" fill="none" stroke="#00008B" stroke-width="2.7" stroke-linecap="butt" stroke-linejoin="miter"/>
<path d="M1077.2,1142 L1082.4,1147.4 L1077.2,1152.8" fill="none" stroke="#00008B" stroke-width="2.7" stroke-linecap="butt" stroke-linejoin="miter"/>
<path d="M1095.8,1142 L1101,1147.4 L1095.8,1152.8" fill="none" stroke="#00008B" stroke-width="2.7" stroke-linecap="butt" stroke-linejoin="miter"/>
<path d="M1114.3,1142 L1119.5,1147.4 L1114.3,1152.8" fill="none" stroke="#00008B" stroke-width="2.7" stroke-linecap="butt" stroke-linejoin="miter"/>
<path d="M1132.8,1142 L1138,1147.4 L1132.8,1152.8" fill="none" stroke="#00008B" stroke-width="2.7" stroke-linecap="butt" stroke-linejoin="miter"/>
<path d="M1151.4,1142 L1156.6,1147.4 L1151.4,1152.8" fill="none" stroke="#00008B" stroke-width="2.7" stroke-linecap="butt" stroke-linejoin="miter"/>
<path d="M1169.9,1142 L1175.1,1147.4 L1169.9,1152.8" fill="none" stroke="#00008B" stroke-width="2.7" stroke-linecap="butt" stroke-linejoin="miter"/>
<path d="M1186.1,1142 L1191.3,1147.4 L1186.1,1152.8" fill="none" stroke="#00008B" stroke-width="2.7" stroke-linecap="butt" stroke-linejoin="miter"/>
<rect x="583.2" y="1138.4" width="7.2" height="18" fill="#00008B"/>
<rect x="816.3" y="1138.4" width="4.7" height="18" fill="#00008B"/>
<rect x="834.1" y="1138.4" width="2.5" height="18" fill="#00008B"/>
<rect x="905" y="1138.4" width="3.6" height="18" fill="#00008B"/>
<rect x="914.3" y="1138.4" width="5.4" height="18" fill="#00008B"/>
<rect x="955.7" y="1138.4" width="6.9" height="18" fill="#00008B"/>
<rect x="985" y="1138.4" width="3.6" height="18" fill="#00008B"/>
<rect x="994.2" y="1138.4" width="4" height="18" fill="#00008B"/>
<rect x="1076.3" y="1138.4" width="4.5" height="18" fill="#00008B"/>
<rect x="1090.6" y="1138.4" width="4.3" height="18" fill="#00008B"/>
<rect x="1156.1" y="1138.4" width="4.4" height="18" fill="#00008B"/>
<rect x="1174.2" y="1138.4" width="17" height="18" fill="#00008B"/>
</g>
<g id="genelabels" font-size="18.5" letter-spacing="0.95" fill="#000" text-anchor="middle">
<text x="1267.2" y="968.7">Gramd2</text>
<text x="410.8" y="1122.7">Parp6</text>
<text x="887.2" y="1122.7">Pkm</text>
</g>
<g id="peaks" fill="#696969">
<rect x="496.9" y="1249" width="24.2" height="11.8"/>
<rect x="569.1" y="1249" width="25.2" height="11.8"/>
<rect x="602" y="1249" width="20.9" height="11.8"/>
<rect x="660" y="1249" width="26.3" height="11.8"/>
<rect x="864.9" y="1249" width="23.4" height="11.8"/>
<rect x="913.4" y="1249" width="23.2" height="11.8"/>
<rect x="994" y="1249" width="22.9" height="11.8"/>
<rect x="1156.9" y="1249" width="23.4" height="11.8"/>
<rect x="1200.9" y="1249" width="23.1" height="11.8"/>
</g>
<g id="xaxis">
<line x1="352" y1="1297.4" x2="1369.8" y2="1297.4" stroke="#000" stroke-width="2.96"/>
<line x1="414.9" y1="1298.8" x2="414.9" y2="1304.9" stroke="#333" stroke-width="2.96"/>
<line x1="679" y1="1298.8" x2="679" y2="1304.9" stroke="#333" stroke-width="2.96"/>
<line x1="943.1" y1="1298.8" x2="943.1" y2="1304.9" stroke="#333" stroke-width="2.96"/>
<line x1="1207.2" y1="1298.8" x2="1207.2" y2="1304.9" stroke="#333" stroke-width="2.96"/>
</g>
<g id="xlabels" font-size="24.55" fill="#4d4d4d" text-anchor="middle">
<text x="414.7" y="1329.2">59650000</text>
<text x="678.8" y="1329.2">59660000</text>
<text x="942.9" y="1329.2">59670000</text>
<text x="1207" y="1329.2">59680000</text>
</g>
<text x="860.3" y="1363.6" font-size="30.7" fill="#000" text-anchor="middle">chr9 position (bp)</text>
</svg>
</body></html>
